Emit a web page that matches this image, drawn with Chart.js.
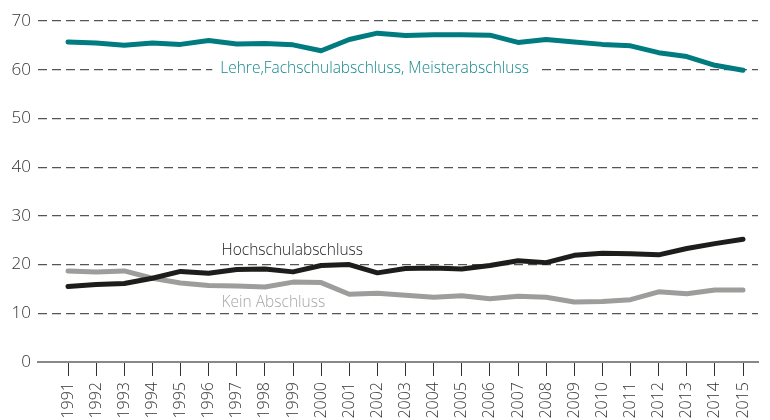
<!DOCTYPE html>
<html lang="de">
<head>
  <meta charset="UTF-8">
  <title>Abschluss</title>
  <script src="https://cdn.jsdelivr.net/npm/chart.js"></script>
  <style>
    * { box-sizing: border-box; }
    body { margin: 0; background: #fff; }
    .box { width: 770px; height: 420px; position: relative; }
  </style>
</head>
<body>
  <div class="box"><canvas id="grafico"></canvas></div>

  <script>
    const anos = [1991, 1992, 1993, 1994, 1995, 1996, 1997, 1998, 1999, 2000, 2001, 2002, 2003,
                  2004, 2005, 2006, 2007, 2008, 2009, 2010, 2011, 2012, 2013, 2014, 2015];
    const lehre = [65.7, 65.5, 65.0, 65.5, 65.2, 66.0, 65.3, 65.4, 65.1, 63.9, 66.2, 67.5, 67.0,
                   67.2, 67.2, 67.1, 65.6, 66.2, 65.7, 65.2, 64.9, 63.5, 62.7, 60.9, 59.9];
    const hochschule = [15.5, 15.9, 16.1, 17.2, 18.6, 18.2, 19.0, 19.1, 18.5, 19.8, 20.0, 18.3, 19.2,
                        19.3, 19.1, 19.8, 20.8, 20.4, 21.9, 22.3, 22.2, 22.0, 23.3, 24.3, 25.2];
    const keinAbschluss = [18.7, 18.5, 18.7, 17.2, 16.2, 15.7, 15.6, 15.4, 16.4, 16.3, 13.9, 14.1, 13.7,
                           13.3, 13.6, 13.0, 13.5, 13.3, 12.3, 12.4, 12.8, 14.4, 14.0, 14.8, 14.8];
    const yTicks = [0, 10, 20, 30, 40, 50, 60, 70];

    const fonte = '"Open Sans", sans-serif';

    // rotulos das series, posicionados em coordenadas de dados
    const rotulos = [
      { text: 'Lehre,Fachschulabschluss, Meisterabschluss', x: 2001.9, y: 60.2, align: 'center', color: '#16888e', bg: true },
      { text: 'Hochschulabschluss', x: 1996.46, y: 22.9, align: 'left', color: '#222222' },
      { text: 'Kein Abschluss', x: 1996.46, y: 12.2, align: 'left', color: '#a6a6a6' }
    ];

    const pluginRotulos = {
      id: 'rotulos',
      afterDatasetsDraw(chart) {
        const ctx = chart.ctx;
        const sx = chart.scales.x, sy = chart.scales.y;
        ctx.save();
        ctx.font = '300 15.5px ' + fonte;
        ctx.textBaseline = 'middle';
        rotulos.forEach(r => {
          const px = sx.getPixelForValue(r.x);
          const py = sy.getPixelForValue(r.y);
          const w = ctx.measureText(r.text).width;
          const left = r.align === 'center' ? px - w / 2 : px;
          if (r.bg) {
            ctx.fillStyle = '#fff';
            ctx.fillRect(left - 8, py - 9, w + 16, 18);
          }
          ctx.fillStyle = r.color;
          ctx.textAlign = 'left';
          ctx.fillText(r.text, left, py);
        });
        ctx.restore();
      }
    };

    const linha = (dados, cor, ordem) => ({
      data: anos.map((a, i) => ({ x: a, y: dados[i] })),
      borderColor: cor,
      borderWidth: 5,
      pointRadius: 0,
      tension: 0,
      borderJoinStyle: 'round',
      borderCapStyle: 'round',
      order: ordem
    });

    new Chart(document.getElementById('grafico'), {
      type: 'line',
      data: {
        datasets: [
          linha(lehre, '#007b80', 0),
          linha(hochschule, '#1d1d1b', 1),
          linha(keinAbschluss, '#9d9d9c', 2)
        ]
      },
      options: {
        responsive: true,
        maintainAspectRatio: false,
        animation: false,
        layout: { padding: { top: 21, right: 12, left: 0, bottom: 0 } },
        plugins: { legend: { display: false }, tooltip: { enabled: false } },
        scales: {
          x: {
            type: 'linear',
            min: 1989.933,
            max: 2015.533,
            afterBuildTicks(scale) { scale.ticks = anos.map(v => ({ value: v })); },
            afterFit(scale) { scale.height = 58; },
            grid: { drawOnChartArea: false, drawTicks: true, tickLength: 14, color: '#333', lineWidth: 1 },
            border: { display: true, color: '#888', width: 2 },
            ticks: {
              autoSkip: false,
              minRotation: 90,
              maxRotation: 90,
              padding: 6,
              color: '#333',
              font: { family: fonte, size: 16, weight: '300' },
              callback: v => String(v)
            }
          },
          y: {
            min: 0,
            max: 70,
            afterBuildTicks(scale) { scale.ticks = yTicks.map(v => ({ value: v })); },
            afterFit(scale) { scale.width = 38; },
            grid: {
              drawTicks: false,
              color: ctx => ctx.tick && ctx.tick.value === 0 ? 'rgba(0,0,0,0)' : '#555',
              lineWidth: 1.2,
              borderDash: [9, 5]
            },
            border: { display: true, color: 'rgba(0,0,0,0)', width: 0, dash: [9, 5] },
            ticks: {
              padding: 7,
              color: '#333',
              font: { family: fonte, size: 17, weight: '300' }
            }
          }
        }
      },
      plugins: [pluginRotulos]
    });
  </script>
</body>
</html>
